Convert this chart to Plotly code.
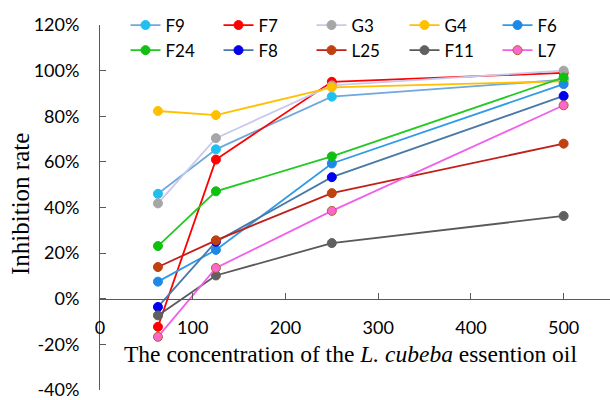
import plotly.graph_objects as go

concentration = [62.5, 125, 250, 500]

series_names = ["F9", "F7", "G3", "G4", "F6", "F24", "F8", "L25", "F11", "L7"]
F9 = [46.0, 65.5, 88.6, 96.0]
F7 = [-12.3, 61.0, 95.1, 99.0]
G3 = [41.8, 70.4, 93.5, 100.0]
G4 = [82.3, 80.5, 92.7, 95.3]
F6 = [7.5, 21.4, 59.3, 94.1]
F24 = [23.1, 47.1, 62.4, 97.0]
F8 = [-3.6, 25.0, 53.3, 88.9]
L25 = [13.9, 25.6, 46.3, 68.0]
F11 = [-7.3, 10.2, 24.4, 36.3]
L7 = [-16.7, 13.5, 38.5, 84.8]
values = [F9, F7, G3, G4, F6, F24, F8, L25, F11, L7]

line_colors = ["#6FA8DC", "#FF0000", "#C9C9EE", "#FFC000", "#2E9AE8",
               "#22C922", "#4A79A8", "#C0201A", "#595959", "#F060E8"]
marker_colors = ["#1FC0F0", "#FF0000", "#A6A6A6", "#FFC000", "#1E88E5",
                 "#10C010", "#0000EE", "#C04010", "#606060", "#FF66CC"]
marker_edge = ["#1FC0F0", "#FF0000", "#A6A6A6", "#FFC000", "#1E88E5",
               "#10C010", "#0000EE", "#C04010", "#606060", "#B06030"]

x_ticks = [0, 100, 200, 300, 400, 500]
y_ticks = [-40, -20, 0, 20, 40, 60, 80, 100, 120]
y_tick_labels = [f"{v}%" for v in y_ticks]

x_title = "The concentration of the <i>L. cubeba</i> essention oil"
y_title = "Inhibition rate"

fig = go.Figure()
for name, vals, lc, mc, me in zip(series_names, values, line_colors, marker_colors, marker_edge):
    fig.add_trace(go.Scatter(
        x=concentration, y=vals, name=name, mode="lines+markers",
        line=dict(color=lc, width=1.8),
        marker=dict(color=mc, size=9, line=dict(color=me, width=1)),
    ))

sans = "Lato"
serif = "Liberation Serif"

fig.update_layout(
    width=610, height=400,
    margin=dict(l=100, r=0, t=25, b=8),
    paper_bgcolor="white", plot_bgcolor="white",
    showlegend=True,
    legend=dict(
        orientation="h", x=0.05, y=1.048, xanchor="left", yanchor="top",
        font=dict(family=sans, size=17, color="#000000"),
        entrywidth=48, entrywidthmode="pixels",
        bgcolor="rgba(0,0,0,0)", tracegroupgap=0,
    ),
    xaxis=dict(
        range=[0, 550], tickvals=x_ticks, ticktext=[str(v) for v in x_ticks],
        anchor="free", position=0.25,
        showline=True, linecolor="#595959", linewidth=1,
        ticks="inside", ticklen=6, tickcolor="#595959",
        showgrid=False, zeroline=False,
        tickfont=dict(family=sans, size=18, color="#000000"),
        ticklabelstandoff=13,
    ),
    yaxis=dict(
        range=[-40, 120], tickvals=y_ticks, ticktext=y_tick_labels,
        showline=True, linecolor="#595959", linewidth=1,
        ticks="inside", ticklen=6, tickcolor="#595959",
        showgrid=False, zeroline=False,
        tickfont=dict(family=sans, size=18, color="#000000"),
        ticklabelstandoff=16, ticklabeloverflow="allow",
    ),
    annotations=[
        dict(text=x_title, xref="paper", yref="paper", x=(350 - 100) / 510,
             y=(392 - 356) / 367, xanchor="center", yanchor="middle",
             showarrow=False, font=dict(family=serif, size=23.5, color="#000000")),
        dict(text=y_title, xref="paper", yref="paper", x=(20 - 100) / 510,
             y=(392 - 205) / 367, xanchor="center", yanchor="middle", textangle=-90,
             showarrow=False, font=dict(family=serif, size=25, color="#000000")),
    ],
)

fig.write_html("out.html")
